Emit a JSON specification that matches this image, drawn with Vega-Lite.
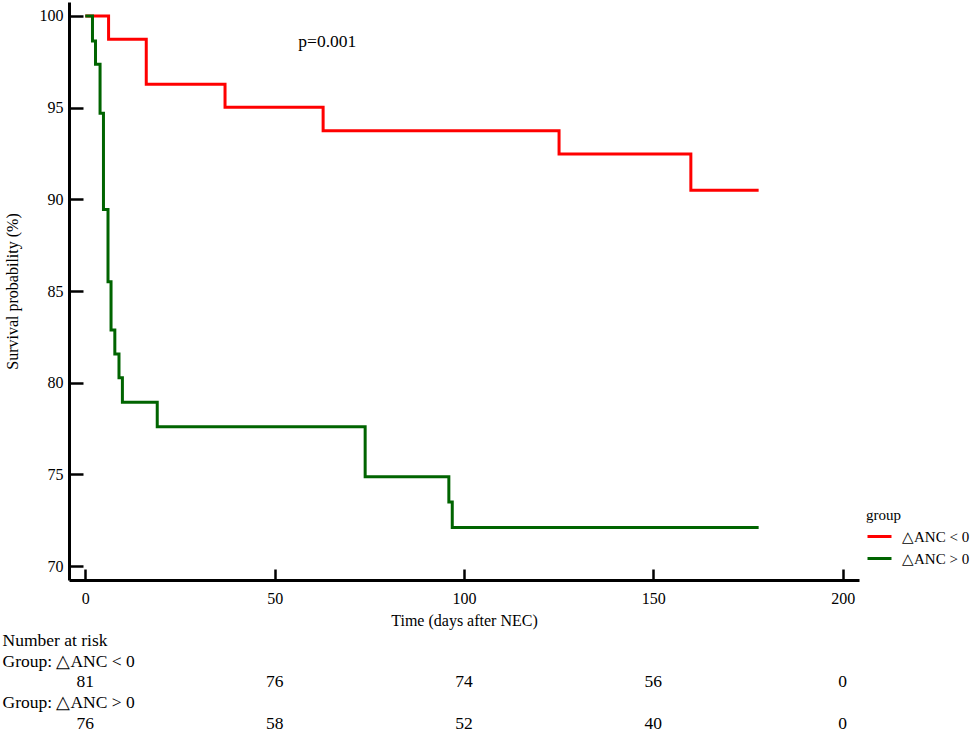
{
  "$schema": "https://vega.github.io/schema/vega-lite/v6.json",
  "background": "white",
  "padding": {"left": 2, "top": 2, "right": 0, "bottom": 0},
  "spacing": 2,
  "config": {
    "view": {"stroke": null},
    "font": "Liberation Serif",
    "axis": {
      "labelFont": "Liberation Serif",
      "titleFont": "Liberation Serif",
      "labelColor": "black",
      "titleColor": "black",
      "labelFontSize": 16,
      "titleFontSize": 16,
      "titleFontWeight": "normal",
      "domainColor": "black",
      "tickColor": "black",
      "grid": false
    },
    "legend": {
      "labelFont": "Liberation Serif",
      "titleFont": "Liberation Serif",
      "labelColor": "black",
      "titleColor": "black"
    }
  },
  "datasets": {
    "km": [
      {"group": "△ANC < 0", "time": 0, "surv": 100},
      {"group": "△ANC < 0", "time": 6.15, "surv": 98.73},
      {"group": "△ANC < 0", "time": 16.1, "surv": 96.27},
      {"group": "△ANC < 0", "time": 36.9, "surv": 95.02},
      {"group": "△ANC < 0", "time": 62.8, "surv": 93.74},
      {"group": "△ANC < 0", "time": 125.1, "surv": 92.47},
      {"group": "△ANC < 0", "time": 159.9, "surv": 90.5},
      {"group": "△ANC < 0", "time": 177.8, "surv": 90.5},
      {"group": "△ANC > 0", "time": 0, "surv": 100},
      {"group": "△ANC > 0", "time": 1.9, "surv": 98.64},
      {"group": "△ANC > 0", "time": 2.7, "surv": 97.36},
      {"group": "△ANC > 0", "time": 3.9, "surv": 94.69},
      {"group": "△ANC > 0", "time": 4.8, "surv": 89.45},
      {"group": "△ANC > 0", "time": 6.0, "surv": 85.5},
      {"group": "△ANC > 0", "time": 6.8, "surv": 82.87},
      {"group": "△ANC > 0", "time": 7.8, "surv": 81.56},
      {"group": "△ANC > 0", "time": 8.9, "surv": 80.27},
      {"group": "△ANC > 0", "time": 9.8, "surv": 78.93},
      {"group": "△ANC > 0", "time": 19.0, "surv": 77.6},
      {"group": "△ANC > 0", "time": 73.9, "surv": 74.87},
      {"group": "△ANC > 0", "time": 96.0, "surv": 73.5},
      {"group": "△ANC > 0", "time": 96.9, "surv": 72.1},
      {"group": "△ANC > 0", "time": 177.8, "surv": 72.1}
    ],
    "note": [
      {"label": "p=0.001", "time": 63.9, "surv": 98.6}
    ],
    "risk": [
      {"row": "n1", "time": 0, "n": 81},
      {"row": "n1", "time": 50, "n": 76},
      {"row": "n1", "time": 100, "n": 74},
      {"row": "n1", "time": 150, "n": 56},
      {"row": "n1", "time": 200, "n": 0},
      {"row": "n2", "time": 0, "n": 76},
      {"row": "n2", "time": 50, "n": 58},
      {"row": "n2", "time": 100, "n": 52},
      {"row": "n2", "time": 150, "n": 40},
      {"row": "n2", "time": 200, "n": 0}
    ]
  },
  "vconcat": [
    {
      "width": 790,
      "height": 578,
      "layer": [
        {
          "data": {"name": "km"},
          "mark": {"type": "line", "interpolate": "step-after", "strokeWidth": 3},
          "encoding": {
            "x": {
              "field": "time",
              "type": "quantitative",
              "scale": {"domain": [-4.3, 204.3], "nice": false, "zero": false},
              "axis": {
                "values": [0, 50, 100, 150, 200],
                "title": "Time (days after NEC)",
                "tickSize": -11,
                "tickWidth": 2.5,
                "domainWidth": 3,
                "labelPadding": 21,
                "titlePadding": 6
              }
            },
            "y": {
              "field": "surv",
              "type": "quantitative",
              "scale": {"domain": [69.24, 100.76], "nice": false, "zero": false},
              "axis": {
                "values": [70, 75, 80, 85, 90, 95, 100],
                "title": "Survival probability (%)",
                "tickSize": -14,
                "tickWidth": 2.5,
                "domainWidth": 3,
                "labelPadding": 20,
                "titlePadding": 19
              }
            },
            "color": {
              "field": "group",
              "type": "nominal",
              "scale": {"domain": ["△ANC < 0", "△ANC > 0"], "range": ["#ff0000", "#006400"]},
              "legend": {
                "title": "group",
                "orient": "none",
                "legendX": 797,
                "legendY": 506,
                "padding": 0,
                "titleFontSize": 15,
                "titleFontWeight": "normal",
                "titlePadding": 0,
                "labelFontSize": 15,
                "symbolType": "stroke",
                "symbolStrokeWidth": 3,
                "symbolSize": 576,
                "labelOffset": 9,
                "rowPadding": 0
              }
            }
          }
        },
        {
          "data": {"name": "note"},
          "mark": {"type": "text", "fontSize": 17.5, "color": "black", "align": "center", "baseline": "middle"},
          "encoding": {
            "x": {"field": "time", "type": "quantitative"},
            "y": {"field": "surv", "type": "quantitative"},
            "text": {"field": "label"}
          }
        }
      ]
    },
    {
      "width": 790,
      "height": 104,
      "data": {"name": "risk"},
      "mark": {"type": "text", "fontSize": 17.5, "color": "black", "align": "center", "baseline": "middle"},
      "encoding": {
        "x": {
          "field": "time",
          "type": "quantitative",
          "scale": {"domain": [-4.3, 204.3], "nice": false, "zero": false},
          "axis": null
        },
        "y": {
          "field": "row",
          "type": "nominal",
          "scale": {
            "domain": ["Number at risk", "Group: △ANC < 0", "n1", "Group: △ANC > 0", "n2"],
            "paddingInner": 0,
            "paddingOuter": 0
          },
          "axis": {
            "title": null,
            "domain": false,
            "ticks": false,
            "labelAlign": "left",
            "labelPadding": 67,
            "labelLimit": 0,
            "labelFontSize": 17.5,
            "labelExpr": "datum.value == 'n1' || datum.value == 'n2' ? '' : datum.value"
          }
        },
        "text": {"field": "n", "type": "quantitative"}
      }
    }
  ]
}
